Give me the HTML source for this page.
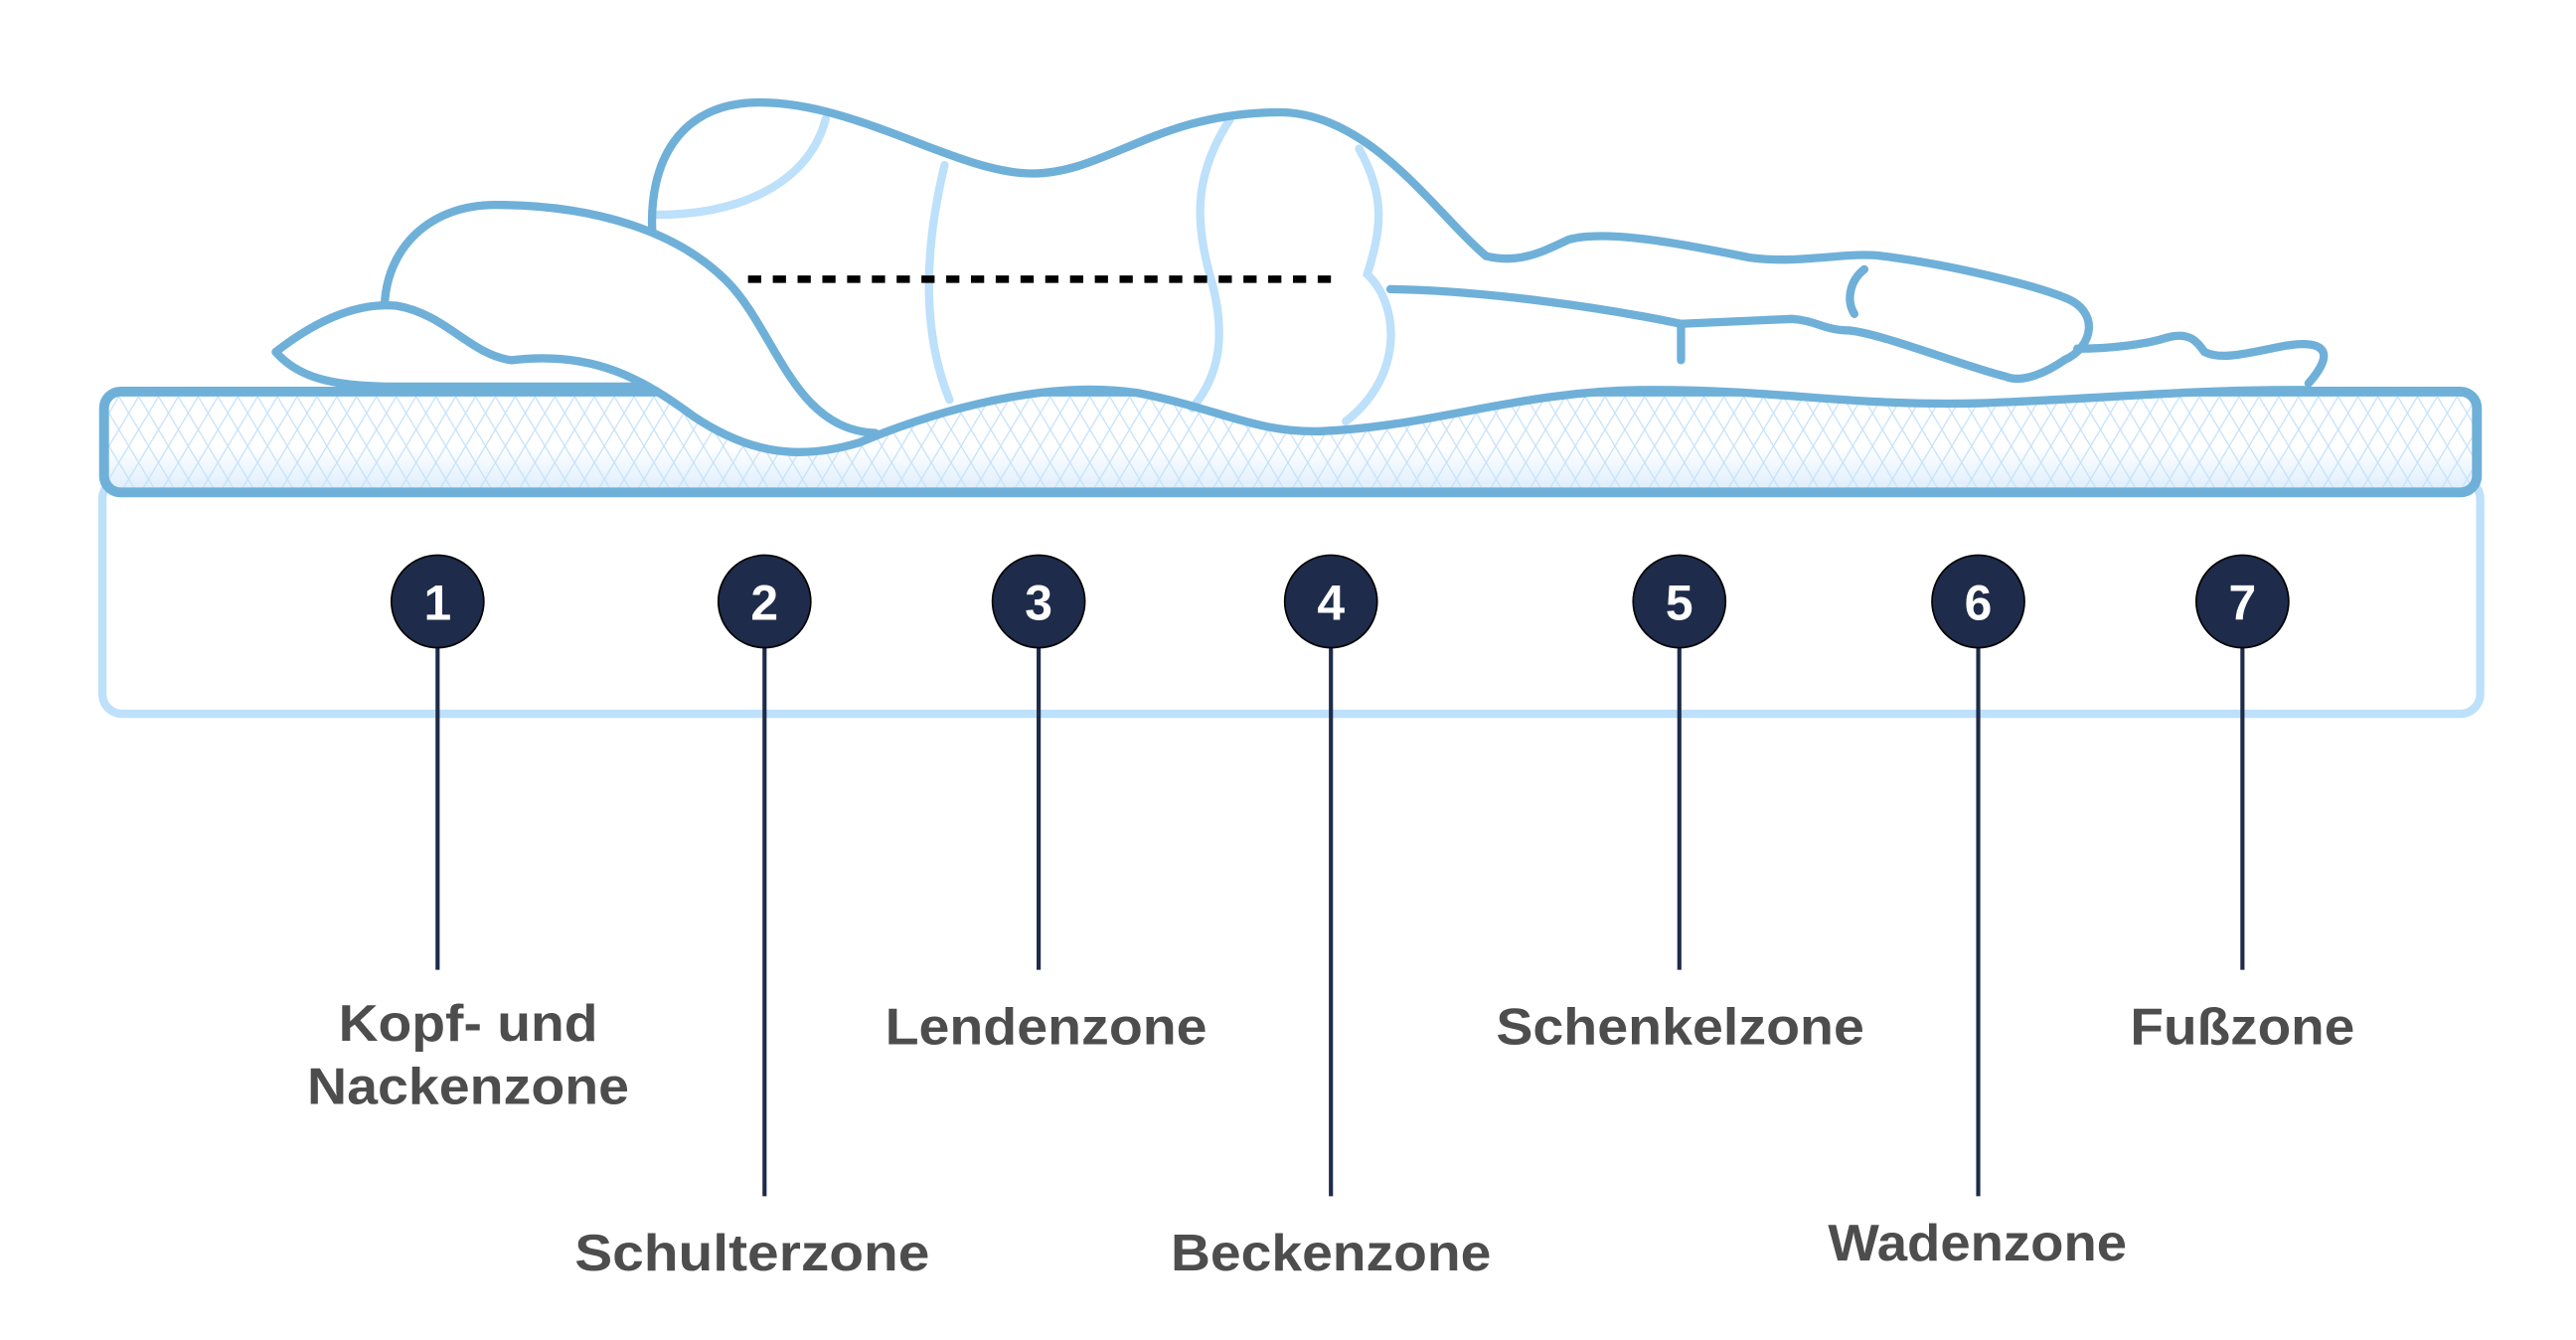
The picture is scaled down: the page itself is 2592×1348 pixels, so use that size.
<!DOCTYPE html>
<html><head><meta charset="utf-8"><style>
html,body{margin:0;padding:0;background:#fff;}
svg{display:block;}
text{font-family:"Liberation Sans",sans-serif;font-weight:bold;fill:#4d4d4d;font-size:31px;}
.n{fill:#fff;font-size:30px;}
</style></head><body>
<svg width="2592" height="1348" viewBox="0 0 1560 811" preserveAspectRatio="none" xmlns="http://www.w3.org/2000/svg">
<defs>
<pattern id="h" width="12" height="20" patternUnits="userSpaceOnUse">
<path d="M0,0 L12,20 M12,0 L0,20" stroke="#c6e2fa" stroke-width="0.8" fill="none"/>
</pattern>
<linearGradient id="g" x1="0" y1="0" x2="0" y2="1">
<stop offset="0.55" stop-color="#fff"/>
<stop offset="1" stop-color="#dcedfc"/>
</linearGradient>
</defs>
<rect x="62" y="290" width="1440" height="142" rx="12" fill="#fff" stroke="#bde0fb" stroke-width="5"/>
<rect x="63" y="237" width="1437" height="61" rx="10" fill="url(#g)"/>
<rect x="63" y="237" width="1437" height="61" rx="10" fill="url(#h)" stroke="#6fb0d9" stroke-width="6"/>
<path d="M390,234 C420,252 450,275 480,276 C500,277 520,270 535,262 C580,245 640,230 690,238 C740,248 760,262 800,261 C870,258 920,236 1000,236 C1080,236 1120,246 1200,244 C1280,241 1320,236 1395,236 L1395,232 L390,232 Z" fill="#fff"/>
<g fill="none" stroke="#bde0fb" stroke-width="5" stroke-linecap="round">
<path d="M397,130 C450,130 490,110 500,72"/>
<path d="M572,100 C560,150 558,200 575,242"/>
<path d="M745,72 C720,110 725,140 735,175 C742,205 738,228 722,247"/>
<path d="M823,90 C840,120 836,140 828,166 C848,185 850,228 815,255"/>
</g>
<g fill="none" stroke="#6fb0d9" stroke-width="5" stroke-linecap="round" stroke-linejoin="round">
<path d="M167,213 C190,195 215,183 240,185 C270,190 285,215 310,218 C360,212 390,230 420,252 C450,272 480,280 520,268 L535,262"/>
<path d="M167,213 C180,228 200,234 240,234 L390,234"/>
<path d="M233,183 C235,150 260,124 300,124 C360,124 410,140 440,170 C470,200 480,260 530,262"/>
<path d="M395,140 C393,100 410,62 460,62 C520,62 580,105 625,105 C670,105 700,68 775,68 C830,68 870,130 900,155 C920,160 935,152 950,145 C975,138 1030,150 1060,156 C1090,160 1120,152 1140,155 C1180,160 1230,172 1250,180 C1272,188 1268,210 1250,218 C1240,225 1225,232 1215,228 C1190,222 1140,202 1120,200 C1105,200 1100,194 1085,193 L1018,196 C970,186 900,176 842,175"/>
<path d="M1018,196 L1018,218"/>
<path d="M1129,163 C1120,170 1118,182 1123,190"/>
<path d="M1258,211 C1280,211 1300,208 1310,205 C1325,200 1330,206 1335,213 C1345,218 1360,214 1380,210 C1410,204 1414,214 1398,232"/>
<path d="M535,262 C580,245 640,230 690,238 C740,248 760,262 800,261 C870,258 920,236 1000,236 C1080,236 1120,246 1200,244 C1280,241 1320,236 1395,236"/>
</g>
<path d="M453,169 L808,169" stroke="#000" stroke-width="4.5" stroke-dasharray="8,7"/>
<g stroke="#1e2b4a" stroke-width="2.5">
<path d="M265,392 V587 M463,392 V724 M629,392 V587 M806,392 V724 M1017,392 V587 M1198,392 V724 M1358,392 V587"/>
</g>
<g fill="#1e2b4a" stroke="#000" stroke-width="1">
<circle cx="265" cy="364" r="28"/><circle cx="463" cy="364" r="28"/><circle cx="629" cy="364" r="28"/><circle cx="806" cy="364" r="28"/><circle cx="1017" cy="364" r="28"/><circle cx="1198" cy="364" r="28"/><circle cx="1358" cy="364" r="28"/>
</g>
<g text-anchor="middle">
<text class="n" x="265" y="375">1</text><text class="n" x="463" y="375">2</text><text class="n" x="629" y="375">3</text><text class="n" x="806" y="375">4</text><text class="n" x="1017" y="375">5</text><text class="n" x="1198" y="375">6</text><text class="n" x="1358" y="375">7</text>
</g>
<text x="205" y="630" textLength="157" lengthAdjust="spacingAndGlyphs">Kopf- und</text>
<text x="186" y="668" textLength="195" lengthAdjust="spacingAndGlyphs">Nackenzone</text>
<text x="348" y="769" textLength="215" lengthAdjust="spacingAndGlyphs">Schulterzone</text>
<text x="536" y="632" textLength="195" lengthAdjust="spacingAndGlyphs">Lendenzone</text>
<text x="709" y="769" textLength="194" lengthAdjust="spacingAndGlyphs">Beckenzone</text>
<text x="906" y="632" textLength="223" lengthAdjust="spacingAndGlyphs">Schenkelzone</text>
<text x="1107" y="763" textLength="181" lengthAdjust="spacingAndGlyphs">Wadenzone</text>
<text x="1290" y="632" textLength="136" lengthAdjust="spacingAndGlyphs">Fußzone</text>
</svg>
</body></html>
